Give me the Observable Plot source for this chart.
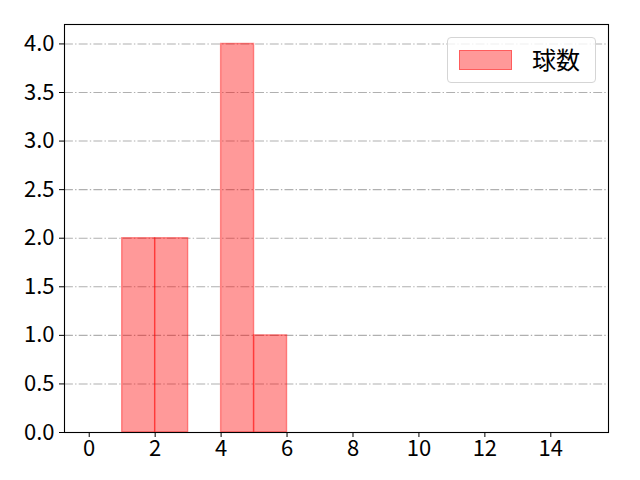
<!DOCTYPE html>
<html><head><meta charset="utf-8">
<script src="https://cdn.jsdelivr.net/npm/d3@7"></script>
<script src="https://cdn.jsdelivr.net/npm/@observablehq/plot@0.6"></script>
<style>
body{margin:0;background:#fff;font-family:"Noto Sans CJK JP","DejaVu Sans",sans-serif;}
#wrap{position:relative;width:640px;height:480px;}
#legend{position:absolute;left:447px;top:37px;width:149px;height:46px;border:1px solid #d5d5d5;border-radius:4px;background:rgba(255,255,255,0.8);box-sizing:border-box;}
#legend .patch{position:absolute;left:11px;top:12px;width:53px;height:20px;background:rgba(255,0,0,0.4);border:1px solid rgba(255,0,0,0.4);box-sizing:border-box;}
#legend .lab{position:absolute;left:84px;top:5px;font-size:24px;color:#000;line-height:32px;}
</style></head>
<body><div id="wrap"><div id="legend"><div class="patch"></div><div class="lab">球数</div></div></div>
<script>
const binStart = [1, 2, 4, 5];
const binEnd = [2, 3, 5, 6];
const counts = [2, 2, 4, 1];
const xTicks = [0, 2, 4, 6, 8, 10, 12, 14];
const yTicks = [0, 0.5, 1, 1.5, 2, 2.5, 3, 3.5, 4];
const seriesName = "球数";

const bars = binStart.map((s, i) => ({x1: s, x2: binEnd[i], y: counts[i]}));

const chart = Plot.plot({
  width: 640, height: 480,
  marginLeft: 64, marginRight: 32, marginTop: 24, marginBottom: 48,
  style: {fontFamily: '"Noto Sans CJK JP","DejaVu Sans",sans-serif', fontSize: "22px", color: "#000", background: "#fff"},
  x: {domain: [-0.75, 15.75], label: null},
  y: {domain: [0, 4.2], label: null},
  marks: [
    Plot.ruleY(yTicks.slice(1), {stroke: "#b0b0b0", strokeWidth: 1.1, strokeDasharray: "8.9,2.2,1.4,2.2"}),
    Plot.rectY(bars, {x1: "x1", x2: "x2", y: "y", fill: "red", fillOpacity: 0.4, stroke: "red", strokeOpacity: 0.4, strokeWidth: 1.4, inset: 0}),
    Plot.frame({stroke: "#000", strokeWidth: 1.1}),
    Plot.axisX({ticks: xTicks, tickSize: 5, tickFormat: d => String(d), fontSize: 22, tickPadding: 3}),
    Plot.axisY({ticks: yTicks, tickSize: 5, tickFormat: d => d.toFixed(1), fontSize: 22, tickPadding: 5})
  ]
});
document.getElementById("wrap").prepend(chart);
</script>
</body></html>
